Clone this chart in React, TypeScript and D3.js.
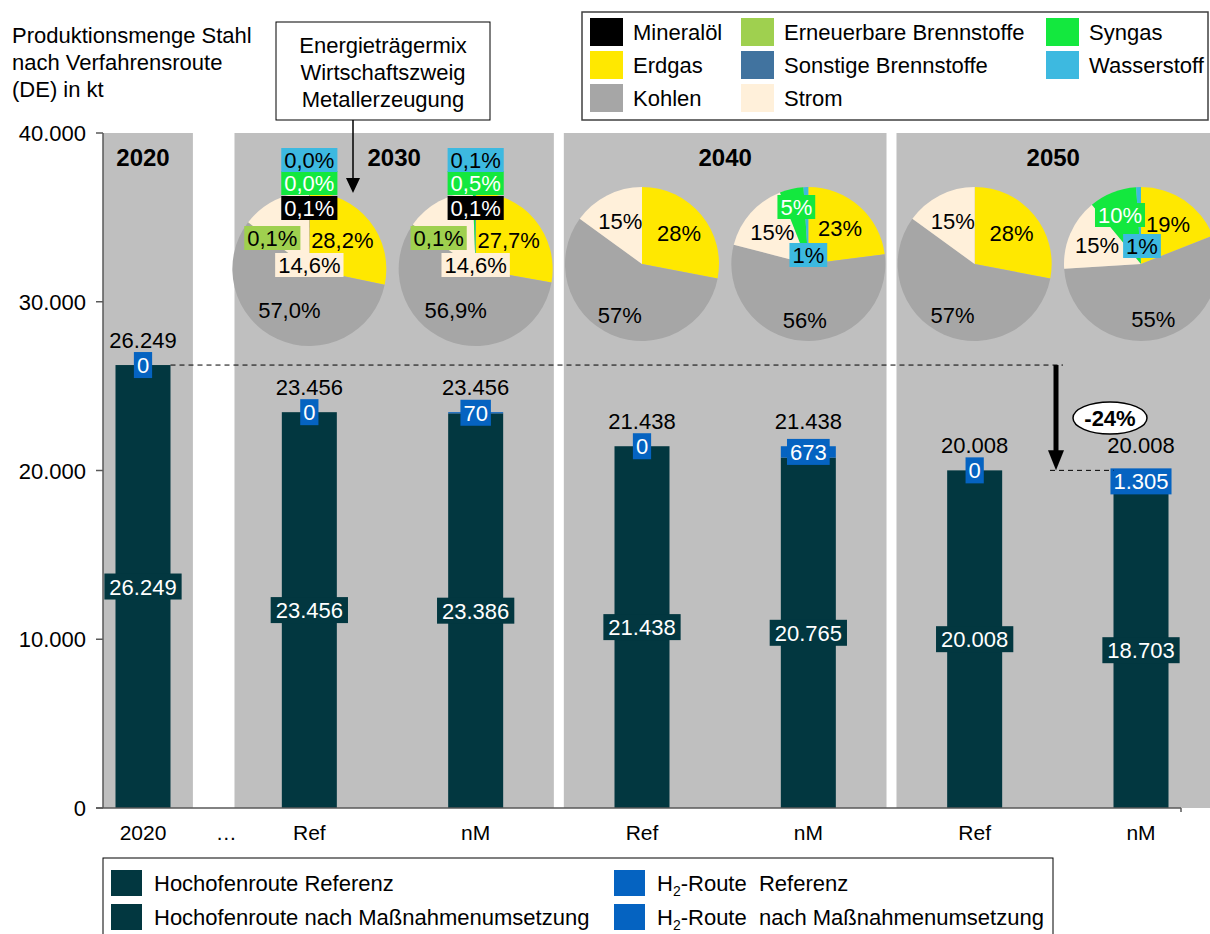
import * as d3 from 'd3'

// bar data (kt)
const barLabels = ['2020', 'Ref', 'nM', 'Ref', 'nM', 'Ref', 'nM']
const hochofen = [26249, 23456, 23386, 21438, 20765, 20008, 18703]
const h2Route = [0, 0, 70, 0, 673, 0, 1305]
const yTicks = [0, 10000, 20000, 30000, 40000]
const years = ['2020', '2030', '2040', '2050']

// energy carrier mix (%), one array per pie
const carriers = ['Mineralöl', 'Erdgas', 'Kohlen', 'Erneuerbare Brennstoffe', 'Sonstige Brennstoffe', 'Strom', 'Syngas', 'Wasserstoff']
const carrierColors = ['#000000', '#ffe800', '#a6a6a6', '#9fd04f', '#41739f', '#fff0da', '#13e83e', '#3db9e0']
const mix2030Ref = [0.1, 28.2, 57.0, 0.1, 0, 14.6, 0.0, 0.0]
const mix2030nM = [0.1, 27.7, 56.9, 0.1, 0, 14.6, 0.5, 0.1]
const mix2040Ref = [0, 28, 57, 0, 0, 15, 0, 0]
const mix2040nM = [0, 23, 56, 0, 0, 15, 5, 1]
const mix2050Ref = [0, 28, 57, 0, 0, 15, 0, 0]
const mix2050nM = [0, 19, 55, 0, 0, 15, 10, 1]
const mixes = [mix2030Ref, mix2030nM, mix2040Ref, mix2040nM, mix2050Ref, mix2050nM]

const W = 1210
const H = 934
const FONT = '"Liberation Sans", Arial, sans-serif'
const BAR = '#023740'
const BLUE = '#0563c1'
const PANEL = '#bfbfbf'
const AXIS = '#595959'

const x = d3.scaleLinear().domain([0, 6]).range([143, 1141])
const y = d3.scaleLinear().domain([0, 40000]).range([808, 133])
const fmt = d3.formatLocale({ decimal: ',', thousands: '.', grouping: [3], currency: ['', ''] }).format(',.0f')

const charW: Record<string, number> = { '.': 0.278, ',': 0.278, '%': 0.889, '-': 0.333 }
const textW = (s: string, size: number) => d3.sum(s.split(''), (c) => charW[c] ?? 0.556) * size

// manual label spots for crowded pies: carrier index -> [dx, dy, boxed]
const label2030: Record<number, [number, number, boolean]> = {
  7: [0, -109, true],
  6: [0, -86, true],
  0: [0, -61, true],
  3: [-37, -31, true],
  1: [33, -29, false],
  5: [0, -4, true],
  2: [-20, 41, false],
}
const pieLabelLayout: Record<number, Record<number, [number, number, boolean]>> = {
  0: label2030,
  1: label2030,
  3: { 6: [-12, -57, true], 7: [0, -9, true] },
  5: { 6: [-21, -49, true], 7: [1, -18, true] },
}

const panels = [
  { from: 103, to: x(0.3) },
  { from: x(0.55), to: x(2.47) },
  { from: x(2.53), to: x(4.47) },
  { from: x(4.53), to: W },
]

const R = 77
const arc = d3.arc<d3.PieArcDatum<number>>().innerRadius(0).outerRadius(R)
const pie = d3.pie<number>().sort(null).value((d) => d)

export default function App() {
  const bw = 55
  const drop = (hochofen[6] + h2Route[6]) / (hochofen[0] + h2Route[0]) - 1
  const yTop = y(hochofen[0] + h2Route[0])
  const yLow = y(hochofen[6] + h2Route[6])

  return (
    <svg width={W} height={H} style={{ position: 'absolute', left: 0, top: 0, fontFamily: FONT }}>
      <rect width={W} height={H} fill="#fff" />
      {panels.map((p, i) => (
        <rect key={i} x={p.from} y={y(40000)} width={p.to - p.from} height={y(0) - y(40000)} fill={PANEL} />
      ))}
      {years.map((yr, i) => (
        <text key={yr} x={i === 0 ? x(0) : (panels[i].from + panels[i].to) / 2} y={166} textAnchor="middle" fontSize={24} fontWeight="bold">
          {yr}
        </text>
      ))}

      {/* bars */}
      {barLabels.map((lab, i) => {
        const total = hochofen[i] + h2Route[i]
        const cx = x(i)
        const hText = fmt(hochofen[i])
        const h2Text = fmt(h2Route[i])
        const hMid = (y(0) + y(hochofen[i])) / 2
        const h2Mid = (y(hochofen[i]) + y(total)) / 2
        const hw = textW(hText, 22) + 10
        const h2w = textW(h2Text, 22) + 6
        return (
          <g key={i}>
            <rect x={cx - bw / 2} y={y(hochofen[i])} width={bw} height={y(0) - y(hochofen[i])} fill={BAR} />
            <rect x={cx - bw / 2} y={y(total)} width={bw} height={y(hochofen[i]) - y(total)} fill={BLUE} />
            <rect x={cx - hw / 2} y={hMid - 13} width={hw} height={26} fill={BAR} />
            <text x={cx} y={hMid + 8} textAnchor="middle" fontSize={22} fill="#fff">{hText}</text>
            <rect x={cx - h2w / 2} y={h2Mid - 13} width={h2w} height={26} fill={BLUE} />
            <text x={cx} y={h2Mid + 8} textAnchor="middle" fontSize={22} fill="#fff">{h2Text}</text>
            <text x={cx} y={y(total) - 17} textAnchor="middle" fontSize={22}>{fmt(total)}</text>
            <text x={cx} y={840} textAnchor="middle" fontSize={21}>{lab}</text>
          </g>
        )
      })}
      <text x={x(0.5)} y={840} textAnchor="middle" fontSize={21}>…</text>

      {/* axes */}
      <line x1={103} x2={103} y1={y(40000)} y2={y(0)} stroke={AXIS} strokeWidth={1.5} />
      <line x1={96} x2={1181} y1={y(0)} y2={y(0)} stroke={AXIS} strokeWidth={1.5} />
      <line x1={1181} x2={1181} y1={y(0)} y2={y(0) + 4} stroke={AXIS} strokeWidth={1.5} />
      {yTicks.map((t) => (
        <g key={t}>
          <line x1={96} x2={103} y1={y(t)} y2={y(t)} stroke={AXIS} strokeWidth={1.5} />
          <text x={86} y={y(t) + 8} textAnchor="end" fontSize={22}>{fmt(t)}</text>
        </g>
      ))}

      {/* reduction marker */}
      <line x1={x(0) + bw / 2} x2={1063} y1={yTop} y2={yTop} stroke="#000" strokeDasharray="5,4" />
      <line x1={1050} x2={x(6) - bw / 2} y1={yLow} y2={yLow} stroke="#000" strokeDasharray="5,4" />
      <line x1={1056} x2={1056} y1={yTop} y2={yLow - 18} stroke="#000" strokeWidth={5} />
      <path d={`M${1056 - 8},${yLow - 20}L${1056 + 8},${yLow - 20}L1056,${yLow}Z`} fill="#000" />
      <ellipse cx={1110} cy={418} rx={37} ry={16} fill="#fff" stroke="#000" strokeWidth={1.5} />
      <text x={1110} y={426} textAnchor="middle" fontSize={22} fontWeight="bold">{d3.format('.0%')(drop).replace('−', '-')}</text>

      {/* pies */}
      {mixes.map((mix, p) => {
        const cx = x(p + 1)
        const cy = p < 2 ? 269 : 264
        const arcs = pie(mix)
        const layout = pieLabelLayout[p] || {}
        const dec = p < 2
        return (
          <g key={p} transform={`translate(${cx},${cy})`}>
            {arcs.map((a, i) => (
              <path key={i} d={arc(a) || ''} fill={carrierColors[i]} />
            ))}
            {arcs.map((a, i) => {
              let dx: number, dy: number, boxed: boolean
              if (layout[i]) {
                ;[dx, dy, boxed] = layout[i]
              } else if (mix[i] >= 3) {
                const r = i === 2 ? 56 : 48
                const c = d3.arc<d3.PieArcDatum<number>>().innerRadius(r).outerRadius(r).centroid(a)
                dx = c[0]
                dy = c[1]
                boxed = false
              } else return null
              const s = (dec ? d3.format('.1f')(mix[i]).replace('.', ',') : d3.format('.0f')(mix[i])) + '%'
              const w = textW(s, 22) + 6
              const light = i === 0 || i === 6
              return (
                <g key={'l' + i}>
                  {boxed && <rect x={dx - w / 2} y={dy - 12} width={w} height={24} fill={carrierColors[i]} />}
                  <text x={dx} y={dy + 8} textAnchor="middle" fontSize={22} fill={light ? '#fff' : '#000'}>{s}</text>
                </g>
              )
            })}
          </g>
        )
      })}

      {/* axis title */}
      <text fontSize={22} x={12}>
        <tspan x={12} y={43}>Produktionsmenge  Stahl</tspan>
        <tspan x={12} y={70}>nach Verfahrensroute</tspan>
        <tspan x={12} y={97}>(DE) in kt</tspan>
      </text>

      {/* pie callout */}
      <rect x={276} y={22} width={214} height={98} fill="#fff" stroke="#000" />
      <text fontSize={22} textAnchor="middle">
        <tspan x={383} y={53}>Energieträgermix</tspan>
        <tspan x={383} y={80}>Wirtschaftszweig</tspan>
        <tspan x={383} y={107}>Metallerzeugung</tspan>
      </text>
      <line x1={353} x2={353} y1={120} y2={180} stroke="#000" strokeWidth={1.5} />
      <path d="M346,178L360,178L353,193Z" fill="#000" />

      {/* carrier legend */}
      <rect x={582} y={12} width={626} height={108} fill="#fff" stroke="#404040" strokeWidth={1.5} />
      {carriers.map((c, i) => {
        const col = Math.floor(i / 3)
        const row = i % 3
        const lx = [590, 741, 1046][col]
        const ly = 32 + row * 33
        return (
          <g key={c}>
            <rect x={lx} y={ly - 14} width={33} height={28} fill={carrierColors[i]} />
            <text x={lx + 43} y={ly + 8} fontSize={22}>{c}</text>
          </g>
        )
      })}

      {/* route legend */}
      <rect x={103} y={858} width={950} height={80} fill="#fff" stroke="#000" />
      {[
        { label: 'Hochofenroute Referenz', color: BAR, sub: false },
        { label: 'Hochofenroute nach Maßnahmenumsetzung', color: BAR, sub: false },
        { label: '  Referenz', color: BLUE, sub: true },
        { label: '  nach Maßnahmenumsetzung', color: BLUE, sub: true },
      ].map((d, i) => {
        const lx = i < 2 ? 111 : 614
        const ly = i % 2 === 0 ? 883 : 917
        return (
          <g key={i}>
            <rect x={lx} y={ly - 13} width={31} height={26} fill={d.color} />
            <text x={lx + 43} y={ly + 8} fontSize={22} style={{ whiteSpace: 'pre' }}>
              {d.sub ? (
                <>
                  H<tspan fontSize={14} dy={5}>2</tspan>
                  <tspan dy={-5}>-Route{d.label}</tspan>
                </>
              ) : (
                d.label
              )}
            </text>
          </g>
        )
      })}
    </svg>
  )
}
